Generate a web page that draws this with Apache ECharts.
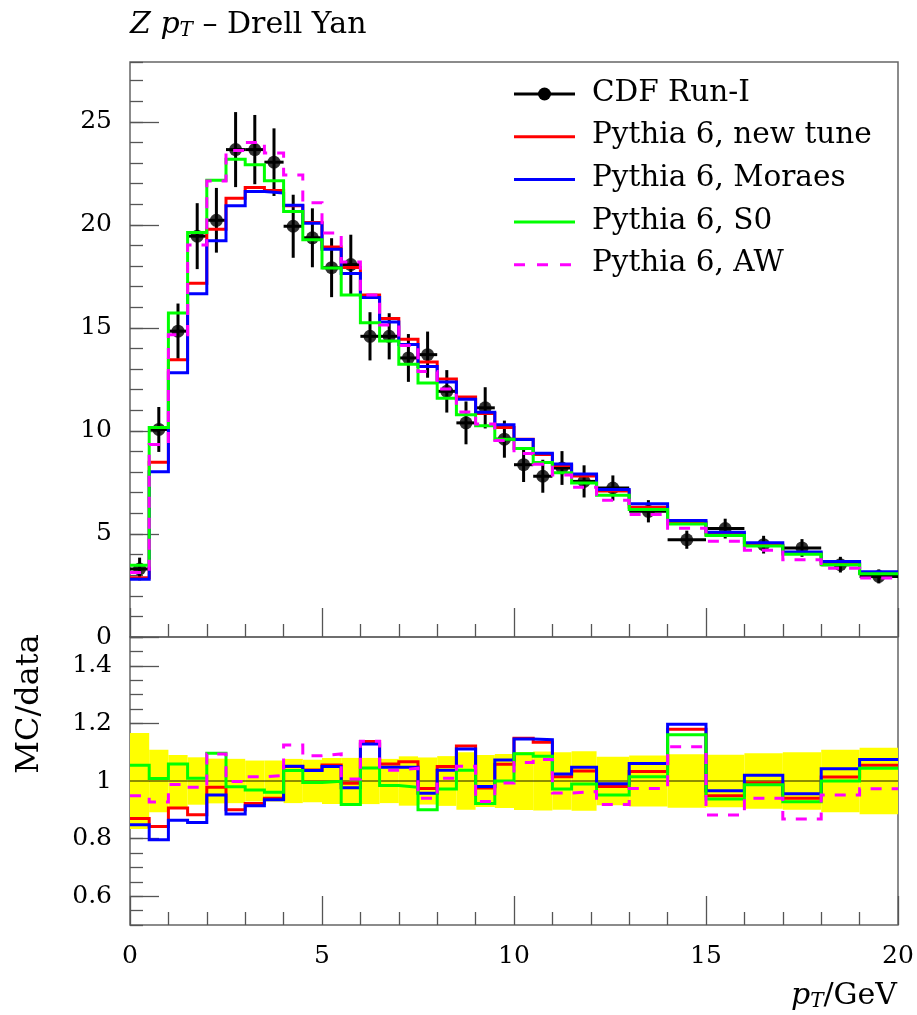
<!DOCTYPE html>
<html><head><meta charset="utf-8">
<script src="https://cdn.jsdelivr.net/npm/echarts@6/dist/echarts.min.js"></script>
<style>html,body{margin:0;padding:0;background:#fff}#c{width:917px;height:1015px}</style>
</head><body><div id="c"></div>
<script>
// ---- data ----
const binEdges = [0,0.5,1,1.5,2,2.5,3,3.5,4,4.5,5,5.5,6,6.5,7,7.5,8,8.5,9,9.5,10,10.5,11,11.5,12.15,13,14,15,16,17,18,19,20];
const cdfValues = [3.30,10.07,14.84,19.45,20.22,23.65,23.65,23.04,19.93,19.37,17.92,18.07,14.59,14.59,13.54,13.70,11.92,10.39,11.12,9.60,8.36,7.80,8.20,7.55,7.23,6.10,4.72,5.26,4.48,4.32,3.51,2.94];
const cdfErrors = [0.55,1.09,1.34,1.60,1.57,1.82,1.68,1.64,1.53,1.43,1.43,1.45,1.17,1.12,1.16,1.12,1.03,1.04,1.00,0.90,0.84,0.80,0.82,0.78,0.61,0.54,0.44,0.48,0.43,0.43,0.38,0.34];
const newTune = [2.87,8.48,13.45,17.17,19.78,21.29,21.81,21.66,20.93,20.11,18.92,17.93,16.59,15.45,14.45,13.34,12.52,11.65,10.85,10.16,9.60,8.85,8.32,7.81,7.09,6.30,5.57,4.99,4.45,4.06,3.56,3.10];
const moraes = [2.80,8.02,12.82,16.65,19.23,20.93,21.62,21.54,20.95,20.07,18.82,17.64,16.47,15.29,14.19,13.12,12.37,11.54,10.91,10.30,9.58,8.92,8.40,7.91,7.16,6.47,5.65,5.08,4.57,4.13,3.66,3.16];
const s0 = [3.48,10.16,15.72,19.63,22.16,23.18,22.92,22.14,20.65,19.27,17.90,16.59,15.25,14.36,13.24,12.33,11.59,10.78,10.25,9.60,9.15,8.47,7.97,7.47,6.88,6.19,5.48,4.93,4.42,4.01,3.51,3.07];
const aw = [3.13,9.34,14.66,19.02,22.12,23.60,24.00,23.48,22.42,21.07,19.60,18.20,16.60,15.14,14.14,12.88,12.03,10.92,10.33,9.53,8.90,8.38,7.86,7.27,6.64,5.94,5.28,4.64,4.21,3.75,3.34,2.86];
const xTickValues = [0,5,10,15,20];
const mainYTicks = [0,5,10,15,20,25];
const ratioYTicks = [0.6,0.8,1,1.2,1.4];
const legendNames = ['CDF Run-I','Pythia 6, new tune','Pythia 6, Moraes','Pythia 6, S0','Pythia 6, AW'];

// ---- helpers ----
const FONT = 'DejaVu Serif';
const RED='#ff0000', BLUE='#0000ff', GREEN='#00ff00', MAG='#ff00ff';
function steps(vals){const p=[];vals.forEach((v,i)=>{p.push([binEdges[i],v]);p.push([binEdges[i+1],v]);});return p;}
function ratio(vals){return vals.map((v,i)=>v/cdfValues[i]);}
const centers = cdfValues.map((_,i)=>(binEdges[i]+binEdges[i+1])/2);
const errRows = cdfValues.map((v,i)=>[binEdges[i],binEdges[i+1],v,cdfErrors[i]]);
const bandRows = cdfValues.map((v,i)=>[binEdges[i],binEdges[i+1],cdfErrors[i]/v]);

const L=130, W=768, T1=62, H1=575, T2=637, H2=288;
const tickColor='#555';
function xAx(grid, labels){
  return {type:'value', gridIndex:grid, min:0, max:20, interval:5,
    axisLine:{show:false}, splitLine:{show:false},
    axisTick:{show:true, inside:true, length:29, lineStyle:{color:tickColor,width:1.3}},
    minorTick:{show:true, splitNumber:5, length:13, lineStyle:{color:tickColor,width:1.3}},
    axisLabel:{show:labels, margin:19, color:'#000', fontFamily:FONT, fontSize:25, customValues: xTickValues}};
}
function yMinor(grid,min,max,iv){
  return {type:'value', gridIndex:grid, min:min, max:max, interval:iv, position:'left',
    axisLine:{show:false}, splitLine:{show:false}, axisLabel:{show:false},
    axisTick:{show:true, inside:true, length:13, lineStyle:{color:tickColor,width:1.3}}};
}
function yMajor(grid,min,max,vals){
  return {type:'value', gridIndex:grid, min:min, max:max, position:'left',
    axisLine:{show:false}, splitLine:{show:false},
    axisTick:{show:true, inside:true, length:29, customValues:vals, lineStyle:{color:tickColor,width:1.3}},
    axisLabel:{show:true, customValues:vals, margin:18, color:'#000', fontFamily:FONT, fontSize:25,
      formatter:(v)=>String(Math.round(v*100)/100)}};
}
function hist(name, vals, color, dashed, xi, yi){
  return {name:name, type:'line', xAxisIndex:xi, yAxisIndex:yi, data: steps(vals), symbol:'none',
    silent:true, lineStyle:{color:color, width:3, type: dashed?[11,10]:'solid', cap:'butt', join:'miter'}};
}

const legendY0 = 94, legendDy = 42.7;
const legendColors = ['#000',RED,BLUE,GREEN,MAG];
const graphics = [];
legendNames.forEach((n,i)=>{
  const y = legendY0 + i*legendDy;
  graphics.push({type:'line', shape:{x1:514,y1:y,x2:575,y2:y}, style:{stroke:legendColors[i], lineWidth:3, lineDash: i===4?[11,12]:null}});
  if(i===0) graphics.push({type:'circle', shape:{cx:544.5, cy:y, r:6.5}, style:{fill:'#000'}});
  graphics.push({type:'text', x:592, y:y-1, style:{text:n, fill:'#000', font:'29.5px "DejaVu Serif"', textVerticalAlign:'middle'}});
});
// title
graphics.push({type:'text', x:130, y:25, style:{
  text:'{i|Z} {i|p}{s|T} – Drell Yan', fill:'#000', font:'30px "DejaVu Serif"', textVerticalAlign:'middle',
  rich:{i:{fontStyle:'italic', fontFamily:FONT, fontSize:30}, s:{fontStyle:'italic', fontFamily:FONT, fontSize:20, padding:[12,0,0,0]}}}});
// x axis title
graphics.push({type:'text', x:897, y:996, style:{
  text:'{i|p}{s|T}/GeV', fill:'#000', font:'30px "DejaVu Serif"', textAlign:'right', textVerticalAlign:'middle',
  rich:{i:{fontStyle:'italic', fontFamily:FONT, fontSize:30}, s:{fontStyle:'italic', fontFamily:FONT, fontSize:20, padding:[12,0,0,0]}}}});
// ratio y title
graphics.push({type:'text', x:30, y:704, rotation:Math.PI/2, style:{
  text:'MC/data', fill:'#000', font:'32px "DejaVu Serif"', textAlign:'center', textVerticalAlign:'middle'}});

const option = {
  animation:false,
  backgroundColor:'#fff',
  grid:[
    {left:L, top:T1, width:W, height:H1, show:true, borderColor:'#666', borderWidth:1.5, backgroundColor:'transparent'},
    {left:L, top:T2, width:W, height:H2, show:true, borderColor:'#666', borderWidth:1.5, backgroundColor:'transparent'}
  ],
  xAxis:[xAx(0,false), xAx(1,true)],
  yAxis:[yMinor(0,0,27.9,1), yMajor(0,0,27.9,mainYTicks), yMinor(1,0.5,1.5,0.05), yMajor(1,0.5,1.5,ratioYTicks)],
  graphic: graphics,
  series:[
    {type:'custom', xAxisIndex:1, yAxisIndex:2, silent:true, data:bandRows,
      renderItem:(p,api)=>{const a=api.coord([api.value(0),1+api.value(2)]), b=api.coord([api.value(1),1-api.value(2)]);
        return {type:'rect', shape:{x:a[0], y:a[1], width:b[0]-a[0], height:b[1]-a[1]}, style:{fill:'#ffff00'}};}},
    {type:'line', xAxisIndex:1, yAxisIndex:2, data:[[0,1],[20,1]], symbol:'none', silent:true, lineStyle:{color:'rgba(0,0,0,0.6)', width:1.5}},
    hist(legendNames[1], ratio(newTune), RED, false, 1, 2),
    hist(legendNames[2], ratio(moraes), BLUE, false, 1, 2),
    hist(legendNames[3], ratio(s0), GREEN, false, 1, 2),
    hist(legendNames[4], ratio(aw), MAG, true, 1, 2),
    hist(legendNames[1], newTune, RED, false, 0, 0),
    hist(legendNames[2], moraes, BLUE, false, 0, 0),
    hist(legendNames[3], s0, GREEN, false, 0, 0),
    hist(legendNames[4], aw, MAG, true, 0, 0),
    {type:'custom', xAxisIndex:0, yAxisIndex:0, silent:true, data:errRows,
      renderItem:(p,api)=>{const lo=api.value(0), hi=api.value(1), v=api.value(2), e=api.value(3), c=(lo+hi)/2;
        const a=api.coord([c,v-e]), b=api.coord([c,v+e]), l=api.coord([lo,v]), r=api.coord([hi,v]);
        return {type:'group', children:[
          {type:'line', shape:{x1:a[0],y1:a[1],x2:b[0],y2:b[1]}, style:{stroke:'#000', lineWidth:3}},
          {type:'line', shape:{x1:l[0],y1:l[1],x2:r[0],y2:r[1]}, style:{stroke:'#000', lineWidth:3}}]};}},
    {name:legendNames[0], type:'scatter', xAxisIndex:0, yAxisIndex:0, silent:true, symbol:'circle', symbolSize:13,
      itemStyle:{color:'#000'}, data: centers.map((c,i)=>[c,cdfValues[i]])}
  ]
};
echarts.init(document.getElementById('c'), null, {renderer:'canvas'}).setOption(option);
</script></body></html>
